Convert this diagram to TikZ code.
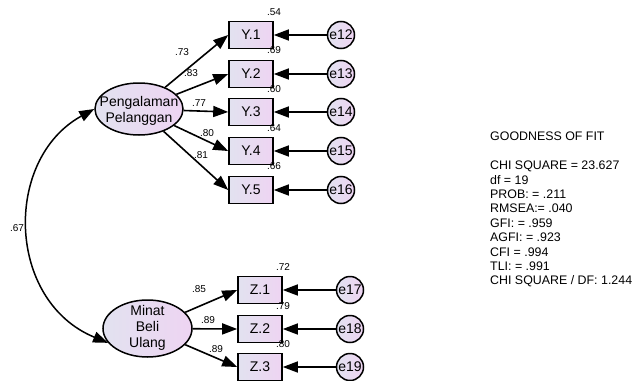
\documentclass[tikz,border=0pt]{standalone}
\usepackage{fontspec}
\setmainfont{Liberation Sans}
\usetikzlibrary{arrows.meta,shapes.geometric}
\definecolor{lavL}{RGB}{226,226,240}
\definecolor{lavR}{RGB}{238,212,242}
\begin{document}
\begin{tikzpicture}[x=1pt,y=-1pt,
  >={Triangle[length=15pt,width=11pt]},
  every node/.style={font=\fontsize{14}{16}\selectfont},
  fillgrad/.style={left color=lavL, right color=lavR},
  obs/.style={draw, line width=1.6pt, fillgrad, minimum width=44pt, minimum height=27pt, inner sep=0pt},
  lat/.style={draw, ellipse, line width=1.5pt, fillgrad, inner sep=0pt},
  err/.style={draw, circle, line width=1.5pt, fillgrad, minimum size=27pt, inner sep=0pt},
  pth/.style={line width=1.6pt, ->},
  val/.style={font=\fontsize{10}{12}\selectfont, inner sep=0pt},
  lbl/.style={align=center, inner sep=0pt},
]
\useasboundingbox (0,0) rectangle (634,380);

% latent variables
\node[lat, minimum width=88pt, minimum height=52pt] (P) at (139,109) {};
\node[lbl] (Ptxt) at (139,111) {Pengalaman\\Pelanggan};
\node[lat, minimum width=89pt, minimum height=57pt] (M) at (147.5,328.5) {};
\node[lbl] (Mtxt) at (147.5,328) {Minat\\Beli\\Ulang};

% observed Y
\foreach \i/\y/\e in {1/35/12,2/74/13,3/112/14,4/151/15,5/190/16}{
  \node[obs] (Y\i) at (251,\y) {Y.\i};
  \node[err] (e\e) at (341,\y) {e\e};
}
% observed Z
\foreach \i/\y/\e in {1/290/17,2/329/18,3/367/19}{
  \node[obs] (Z\i) at (260,\y) {Z.\i};
  \node[err] (e\e) at (350,\y) {e\e};
}

% loadings
\foreach \i in {1,...,5}{ \draw[pth] (P) -- (Y\i.west); }
\foreach \i in {1,2,3}{ \draw[pth] (M) -- (Z\i.west); }
% errors
\foreach \i/\e in {1/12,2/13,3/14,4/15,5/16}{ \draw[pth] (e\e) -- (Y\i); }
\foreach \i/\e in {1/17,2/18,3/19}{ \draw[pth] (e\e) -- (Z\i); }

% covariance
\draw[line width=1.5pt, <->] (P.west) .. controls +(-91,50) and +(-102,-42) .. (M.200);

% values
\node[val] (r1) at (274,12) {.54};
\node[val] (r2) at (274,50) {.69};
\node[val] (r3) at (274,89) {.60};
\node[val] (r4) at (274,128) {.64};
\node[val] (r5) at (274,166) {.66};
\node[val] (r6) at (283,267) {.72};
\node[val] (r7) at (283,306) {.79};
\node[val] (r8) at (283,344) {.80};
\node[val] (l1) at (182,52) {.73};
\node[val] (l2) at (191,73) {.83};
\node[val] (l3) at (199,103) {.77};
\node[val] (l4) at (207,133) {.80};
\node[val] (l5) at (201,155) {.81};
\node[val] (l6) at (199,289) {.85};
\node[val] (l7) at (208,320) {.89};
\node[val] (l8) at (216,349) {.89};
\node[val] (c1) at (17,228) {.67};

% goodness of fit
\node[anchor=north west, align=left, inner sep=0pt, font=\fontsize{12.4}{14.4}\selectfont] (gof) at (490,132)
{GOODNESS OF FIT\\[14.4pt]
CHI SQUARE = 23.627\\
df = 19\\
PROB: = .211\\
RMSEA:= .040\\
GFI: = .959\\
AGFI: = .923\\
CFI = .994\\
TLI: = .991\\
CHI SQUARE / DF: 1.244};
\end{tikzpicture}
\end{document}
